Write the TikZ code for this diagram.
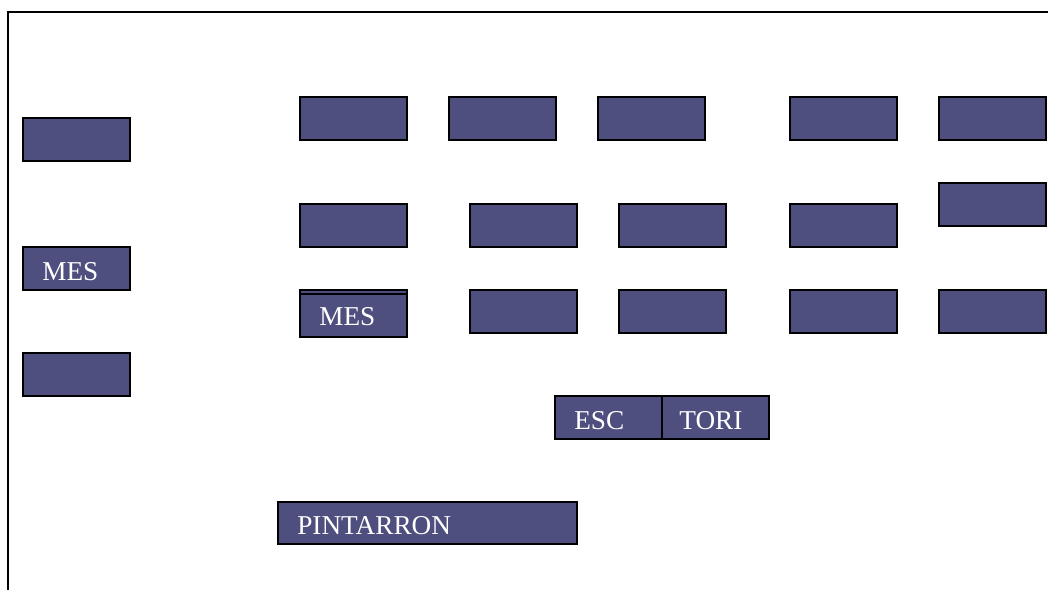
\documentclass[tikz,border=0pt]{standalone}
\usepackage{fontspec}
\setmainfont{Liberation Serif}
\usetikzlibrary{positioning}
\definecolor{boxfill}{RGB}{79,79,127}
\tikzset{
  box/.style={draw=black, line width=1pt, fill=boxfill, anchor=north west,
    minimum width=2.14cm, minimum height=0.86cm, inner sep=0pt, outer sep=0pt},
  lbl/.style={text=white, font=\fontsize{15.5}{18}\selectfont, anchor=base west,
    inner sep=0pt, xshift=0.38cm, yshift=0.18cm}
}
\begin{document}
\begin{tikzpicture}[x=0.02cm, y=-0.02cm]
\useasboundingbox (0,0) rectangle (1048,590);

\def\ya{97}
\def\yb{204}
\def\yc{290}

\coordinate (tl) at (8,12);
\coordinate (tr) at (1048,12);
\coordinate (bl) at (8,590);
\draw[line width=1pt] (tr) -- (tl) -- (bl);

\node[box] (left1) at (23,118) {};
\node[box] (left2) at (23,247) {};
\node[box] (left3) at (23,353) {};
\node[lbl] (left2t) at (left2.south west) {MES};

\node[box] (a1) at (300,\ya) {};
\node[box] (a2) at (449,\ya) {};
\node[box] (a3) at (598,\ya) {};
\node[box] (a4) at (790,\ya) {};
\node[box] (a5) at (939,\ya) {};

\node[box] (b1) at (300,\yb) {};
\node[box] (b2) at (470,\yb) {};
\node[box] (b3) at (619,\yb) {};
\node[box] (b4) at (790,\yb) {};
\node[box] (b5) at (939,183) {};

\node[box] (c1) at (300,\yc) {};
\node[box] (c1b) at (300,\yc+4) {};
\node[box] (c2) at (470,\yc) {};
\node[box] (c3) at (619,\yc) {};
\node[box] (c4) at (790,\yc) {};
\node[box] (c5) at (939,\yc) {};
\node[lbl, yshift=0.04cm] (c1t) at (c1b.south west) {MES};

\node[box] (esc) at (555,396) {};
\node[box] (tori) at (662,396) {};
\node[lbl] (esct) at (esc.south west) {ESC};
\node[lbl, xshift=-0.04cm] (torit) at (tori.south west) {TORI};

\node[box, minimum width=5.98cm, minimum height=0.84cm] (pint) at (278,502) {};
\node[lbl] (pintt) at (pint.south west) {PINTARRON};

\end{tikzpicture}
\end{document}
